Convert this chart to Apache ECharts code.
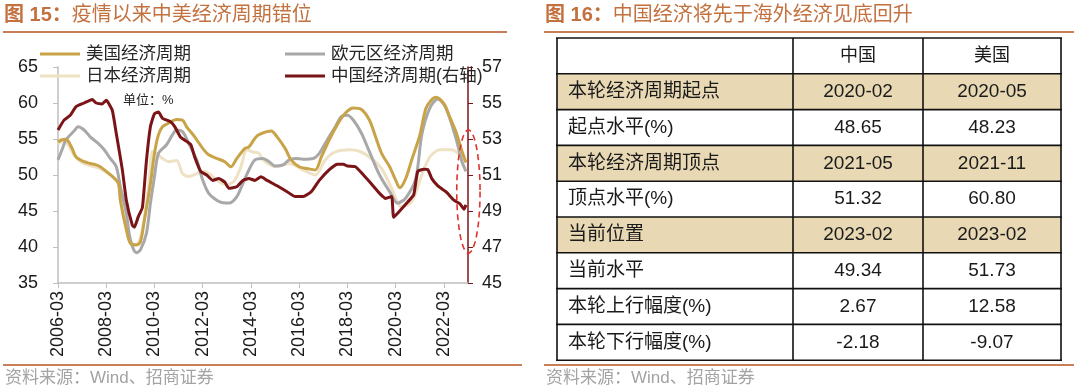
<!DOCTYPE html>
<html><head><meta charset="utf-8">
<script src="https://cdn.jsdelivr.net/npm/echarts@6.0.0/dist/echarts.min.js"></script>
<style>html,body{margin:0;padding:0;background:#fff;}#c{width:1080px;height:391px;}</style>
</head><body><div id="c"></div>
<script>
// ---------- Data (left panel: 经济周期指标) ----------
const xTickLabels = ['2006-03','2008-03','2010-03','2012-03','2014-03','2016-03','2018-03','2020-03','2022-03'];
const leftTicks = [35, 40, 45, 50, 55, 60, 65];
const rightTicks = [45, 47, 49, 51, 53, 55, 57];

const usDates = ['2006-03','2006-05','2006-07','2006-10','2006-12','2007-04','2007-07','2007-10','2007-12','2008-03','2008-06','2008-09','2008-10','2009-01','2009-03','2009-06','2009-08','2009-10','2010-01','2010-03','2010-05','2010-07','2010-10','2011-02','2011-05','2011-07','2011-11','2012-03','2012-06','2012-10','2013-02','2013-05','2013-08','2013-12','2014-02','2014-05','2014-07','2015-01','2015-04','2015-08','2015-11','2016-03','2016-07','2016-11','2017-02','2017-06','2017-10','2018-02','2018-06','2018-10','2019-02','2019-05','2019-08','2019-12','2020-03','2020-05','2020-08','2020-11','2021-03','2021-06','2021-09','2021-11','2022-03','2022-06','2022-09','2022-12','2023-02'];
const usValues = [54.6,54.9,54.96,53.7,52.5,51.85,51.6,51.4,51.15,50.5,49.8,48.85,46.5,42.4,40.5,40.3,40.7,43.75,48.85,53.0,55.6,56.7,57.2,57.7,57.6,56.7,55.3,53.7,52.8,52.3,51.85,51.15,52.3,53.7,53.9,55.1,55.6,56.1,55.3,53.7,52.1,51.15,50.9,50.7,52.5,54.9,57.0,58.6,59.3,59.1,57.6,55.3,53.0,51.15,49.3,48.23,49.5,52.1,55.5,59.2,60.5,60.8,59.9,58.0,56.0,53.3,51.73];

const euDates = ['2006-03','2006-05','2006-07','2006-11','2007-01','2007-04','2007-07','2007-11','2008-02','2008-05','2008-08','2008-10','2009-01','2009-03','2009-06','2009-08','2009-11','2010-01','2010-03','2010-05','2010-09','2010-12','2011-02','2011-05','2011-08','2011-12','2012-03','2012-06','2012-10','2013-01','2013-04','2013-08','2013-11','2014-02','2014-05','2014-09','2014-12','2015-03','2015-07','2015-10','2016-01','2016-05','2016-10','2017-01','2017-05','2017-09','2017-12','2018-03','2018-06','2018-10','2019-02','2019-07','2019-12','2020-04','2020-08','2021-01','2021-04','2021-08','2021-12','2022-04','2022-09','2022-12','2023-02'];
const euValues = [52.1,53.5,54.9,56.1,56.7,56.25,55.3,54.4,53.5,52.3,51.15,48.4,44.7,41.0,39.2,39.6,41.9,46.1,49.8,53.0,54.2,55.6,56.25,56.0,54.4,52.1,49.3,47.45,46.5,46.15,46.1,47.0,48.85,50.7,52.1,52.3,51.85,51.25,51.4,52.1,52.3,52.2,52.3,53.0,54.9,56.7,58.1,58.3,57.6,55.8,53.2,50.0,47.7,46.1,46.8,49.5,55.6,59.3,60.55,59.3,55.1,51.85,50.5];

const jpDates = ['2006-03','2006-06','2006-08','2006-11','2007-03','2007-07','2007-11','2008-03','2008-07','2008-09','2008-11','2009-01','2009-03','2009-05','2009-07','2009-09','2009-12','2010-02','2010-04','2010-07','2010-10','2011-02','2011-05','2011-08','2011-12','2012-04','2012-07','2012-11','2013-03','2013-07','2013-10','2014-01','2014-04','2014-07','2014-09','2015-03','2015-10','2016-05','2016-11','2017-04','2017-09','2018-04','2018-09','2019-02','2019-08','2020-01','2020-06','2020-11','2021-04','2021-08','2022-01','2022-07','2022-10','2023-02'];
const jpValues = [54.3,54.8,54.2,52.8,51.7,51.3,51.0,50.4,49.6,49.1,47.0,43.5,41.0,40.2,40.6,42.5,48.0,53.3,53.0,52.3,51.85,52.0,50.2,49.8,50.2,50.5,50.0,49.1,48.6,49.3,51.15,53.5,53.2,53.0,52.1,51.15,51.6,50.7,50.0,52.1,53.2,53.5,53.3,52.5,50.9,48.15,45.6,46.3,50.0,52.5,53.5,53.5,53.0,51.85];

const cnDates = ['2006-03','2006-06','2006-09','2006-12','2007-04','2007-08','2007-10','2008-01','2008-03','2008-06','2008-08','2008-11','2009-01','2009-04','2009-05','2009-07','2009-09','2009-11','2010-01','2010-03','2010-05','2010-07','2010-11','2011-01','2011-04','2011-09','2011-11','2012-02','2012-05','2012-08','2012-11','2013-02','2013-04','2013-08','2013-11','2014-02','2014-05','2014-08','2014-11','2015-04','2015-09','2016-01','2016-05','2016-09','2017-01','2017-06','2017-10','2018-01','2018-03','2018-07','2018-11','2019-03','2019-07','2019-10','2020-01','2020-02','2020-05','2020-09','2020-12','2021-02','2021-05','2021-07','2021-09','2021-12','2022-04','2022-08','2022-11','2023-01','2023-02'];
const cnValues = [53.5,54.05,54.3,54.8,55.0,55.2,55.0,54.95,55.15,54.6,53.3,51.3,49.6,48.2,48.1,48.7,49.2,51.8,53.7,54.4,54.5,54.15,53.96,53.7,53.1,52.7,52.0,51.2,51.0,50.7,50.8,50.6,50.26,50.35,50.7,50.8,50.7,50.9,50.7,50.4,50.07,49.8,49.8,50.07,50.7,51.3,51.6,51.6,51.5,51.46,51.0,50.5,49.98,49.7,49.8,48.65,49.0,49.5,49.9,51.2,51.32,51.3,50.8,50.4,50.07,49.6,49.4,49.1,49.34];

const seriesNames = ['美国经济周期','欧元区经济周期','日本经济周期','中国经济周期(右轴)'];

// ---------- Data (right panel: table) ----------
const tableHeader = ['', '中国', '美国'];
const tableRowLabels = ['本轮经济周期起点','起点水平(%)','本轮经济周期顶点','顶点水平(%)','当前位置','当前水平','本轮上行幅度(%)','本轮下行幅度(%)'];
const tableChina = ['2020-02','48.65','2021-05','51.32','2023-02','49.34','2.67','-2.18'];
const tableUS = ['2020-05','48.23','2021-11','60.80','2023-02','51.73','12.58','-9.07'];
const tableHighlight = [true,false,true,false,true,false,false,false];

// ---------- helpers ----------
function monthIndex(s){const p=s.split('-').map(Number);return (p[0]-2006)*12+(p[1]-3);}
function monthLabel(i){const t=Math.round(i)+2;const y=2006+Math.floor(t/12);const m=t%12+1;return y+'-'+(m<10?'0':'')+m;}
function pairs(d,v){return d.map((x,i)=>[monthIndex(x),v[i]]);}

const FONT = "'Liberation Sans','Noto Sans CJK SC',sans-serif";
const colors = {us:'#C8A347', eu:'#A8A8A8', jp:'#EEE1C4', cn:'#7A1417'};
const legendColors = [colors.us, colors.eu, colors.jp, colors.cn];

const chart = echarts.init(document.getElementById('c'), null, {renderer:'canvas'});

// graphic elements
const G = [];
const titleColor = '#C2713F';
const ruleColor = '#C97E57';
G.push({type:'text', left:4, top:5, style:{text:'{b|图 15：}{n|疫情以来中美经济周期错位}', rich:{b:{fontSize:20,fontWeight:'bold',fill:titleColor,fontFamily:FONT},n:{fontSize:20,fill:titleColor,fontFamily:FONT}}}});
G.push({type:'text', left:545, top:5, style:{text:'{b|图 16：}{n|中国经济将先于海外经济见底回升}', rich:{b:{fontSize:20,fontWeight:'bold',fill:titleColor,fontFamily:FONT},n:{fontSize:20,fill:titleColor,fontFamily:FONT}}}});
G.push({type:'line', shape:{x1:3,y1:32,x2:507,y2:32}, style:{stroke:ruleColor,lineWidth:2}});
G.push({type:'line', shape:{x1:544,y1:32,x2:1074,y2:32}, style:{stroke:ruleColor,lineWidth:2}});
G.push({type:'line', shape:{x1:3,y1:365,x2:522,y2:365}, style:{stroke:ruleColor,lineWidth:2}});
G.push({type:'line', shape:{x1:544,y1:365,x2:1074,y2:365}, style:{stroke:ruleColor,lineWidth:2}});
G.push({type:'text', left:5, top:370, style:{text:'资料来源：Wind、招商证券', fontSize:17, fill:'#A3A3A3', fontFamily:FONT}});
G.push({type:'text', left:546, top:370, style:{text:'资料来源：Wind、招商证券', fontSize:17, fill:'#A3A3A3', fontFamily:FONT}});

// legend (2x2)
const legPos = [[40,54],[285,54],[40,76],[285,76]];
seriesNames.forEach((n,i)=>{
  const [x,y]=legPos[i];
  G.push({type:'line', z:50, shape:{x1:x,y1:y,x2:x+40,y2:y}, style:{stroke:legendColors[i], lineWidth:3}});
  G.push({type:'text', z:50, x:x+46, y:y, style:{text:n, fontSize:17.5, fill:'#262626', fontFamily:FONT, verticalAlign:'middle'}});
});
G.push({type:'text', z:50, x:123, y:100, style:{text:'单位：%', fontSize:13, fill:'#262626', fontFamily:FONT, verticalAlign:'middle'}});

// table
const tX = [557, 793, 923, 1061];
const tTop = 38, rowH = 35.8, nRows = tableRowLabels.length + 1;
tableHighlight.forEach((h,i)=>{
  if(h) G.push({type:'rect', shape:{x:tX[0], y:tTop+(i+1)*rowH, width:tX[3]-tX[0], height:rowH}, style:{fill:'#E8D9B4'}});
});
for(let r=0;r<=nRows;r++){
  const y=tTop+r*rowH;
  G.push({type:'line', shape:{x1:tX[0]-1,y1:y,x2:tX[3]+1,y2:y}, style:{stroke:'#111',lineWidth:1.6}});
}
tX.forEach(x=>G.push({type:'line', shape:{x1:x,y1:tTop,x2:x,y2:tTop+nRows*rowH}, style:{stroke:'#111',lineWidth:1.6}}));
const c2 = (tX[1]+tX[2])/2, c3 = (tX[2]+tX[3])/2;
G.push({type:'text', x:c2, y:tTop+rowH/2, style:{text:tableHeader[1], fontSize:18, fill:'#1a1a1a', fontFamily:FONT, align:'center', verticalAlign:'middle'}});
G.push({type:'text', x:c3, y:tTop+rowH/2, style:{text:tableHeader[2], fontSize:18, fill:'#1a1a1a', fontFamily:FONT, align:'center', verticalAlign:'middle'}});
tableRowLabels.forEach((lab,i)=>{
  const yc = tTop+(i+1)*rowH+rowH/2;
  G.push({type:'text', x:568, y:yc, style:{text:lab, fontSize:19, fill:'#1a1a1a', fontFamily:FONT, verticalAlign:'middle'}});
  G.push({type:'text', x:c2, y:yc, style:{text:tableChina[i], fontSize:19, fill:'#1a1a1a', fontFamily:FONT, align:'center', verticalAlign:'middle'}});
  G.push({type:'text', x:c3, y:yc, style:{text:tableUS[i], fontSize:19, fill:'#1a1a1a', fontFamily:FONT, align:'center', verticalAlign:'middle'}});
});

const axisLabelStyle = {fontSize:18, color:'#1a1a1a', fontFamily:FONT};

const option = {
  animation:false,
  backgroundColor:'#fff',
  grid:{left:58, top:67, width:410, height:216, containLabel:false},
  xAxis:{type:'value', min:0, max:204, interval:24,
    axisLine:{show:true, lineStyle:{color:'#BFBFBF', width:1.5}},
    axisTick:{show:true, length:5, lineStyle:{color:'#BFBFBF'}},
    splitLine:{show:false},
    axisLabel:Object.assign({rotate:90, margin:8, showMaxLabel:false,
      formatter:v=>{const l=monthLabel(v);return xTickLabels.indexOf(l)>=0?l:'';}}, axisLabelStyle)},
  yAxis:[
    {type:'value', min:leftTicks[0], max:leftTicks[leftTicks.length-1], interval:leftTicks[1]-leftTicks[0], position:'left',
      axisLine:{show:true, lineStyle:{color:'#BFBFBF', width:1.5}},
      axisTick:{show:true, length:5, lineStyle:{color:'#BFBFBF'}},
      splitLine:{show:false},
      axisLabel:Object.assign({margin:20}, axisLabelStyle)},
    {type:'value', min:rightTicks[0], max:rightTicks[rightTicks.length-1], interval:rightTicks[1]-rightTicks[0], position:'right',
      axisLine:{show:true, lineStyle:{color:'#7A1417', width:1.5}},
      axisTick:{show:true, length:5, lineStyle:{color:'#7A1417'}},
      splitLine:{show:false},
      axisLabel:Object.assign({margin:14}, axisLabelStyle)}
  ],
  series:[
    {name:seriesNames[2], type:'line', yAxisIndex:0, data:pairs(jpDates,jpValues), showSymbol:false, smooth:0.3, lineStyle:{color:colors.jp, width:3}, itemStyle:{color:colors.jp}, z:2},
    {name:seriesNames[1], type:'line', yAxisIndex:0, data:pairs(euDates,euValues), showSymbol:false, smooth:0.3, lineStyle:{color:colors.eu, width:3}, itemStyle:{color:colors.eu}, z:3},
    {name:seriesNames[0], type:'line', yAxisIndex:0, data:pairs(usDates,usValues), showSymbol:false, smooth:0.3, lineStyle:{color:colors.us, width:3}, itemStyle:{color:colors.us}, z:4},
    {name:seriesNames[3], type:'line', yAxisIndex:1, data:pairs(cnDates,cnValues), showSymbol:false, smooth:0.15, lineStyle:{color:colors.cn, width:3}, itemStyle:{color:colors.cn}, z:5}
  ],
  graphic:{elements:G}
};
chart.setOption(option);

// dashed ellipse annotation around the latest readings (right-axis coordinates)
const ellC = [204.2, 50.08], ellR = [5.8, 3.42];
const pc = chart.convertToPixel({xAxisIndex:0, yAxisIndex:1}, ellC);
const pe = chart.convertToPixel({xAxisIndex:0, yAxisIndex:1}, [ellC[0]+ellR[0], ellC[1]+ellR[1]]);
const rx = Math.abs(pe[0]-pc[0]), ry = Math.abs(pe[1]-pc[1]);
const pts = [];
for(let k=0;k<=72;k++){const a=k/72*Math.PI*2;pts.push([pc[0]+rx*Math.cos(a), pc[1]+ry*Math.sin(a)]);}
chart.setOption({graphic:{elements:G.concat([{type:'polyline', z:100, shape:{points:pts}, style:{stroke:'#E0332C', lineWidth:1.6, lineDash:[6,4], fill:null}}])}});
</script></body></html>
